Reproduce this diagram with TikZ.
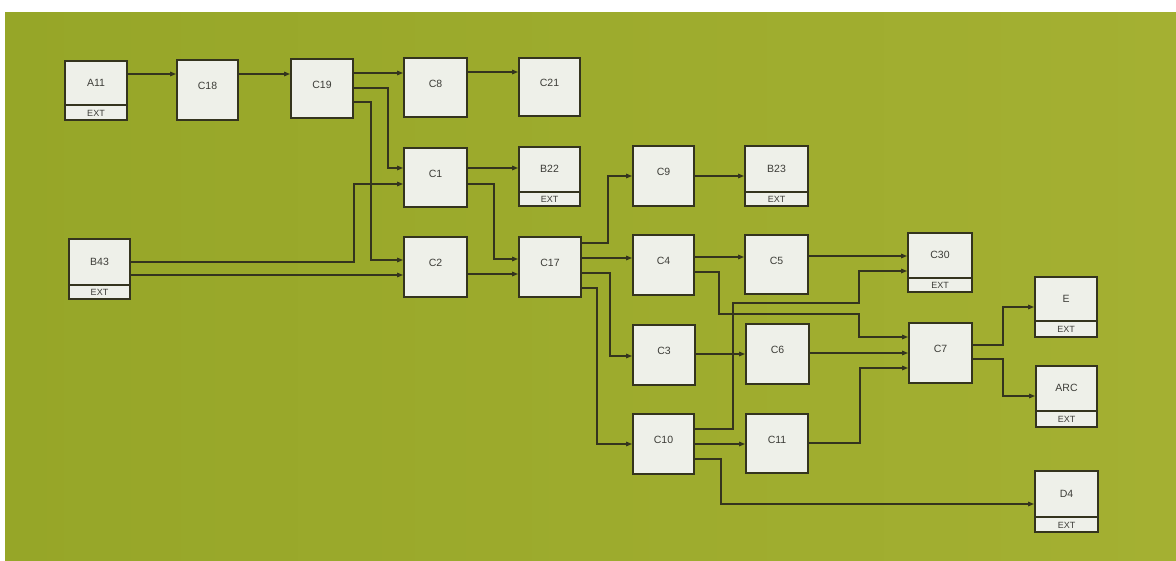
\documentclass[tikz,border=0pt]{standalone}
\usepackage{fontspec}
\setmainfont{Liberation Sans}
\usetikzlibrary{arrows.meta,fit,calc}
\definecolor{bgleft}{RGB}{150,166,40}
\definecolor{bgright}{RGB}{164,176,50}
\definecolor{boxfill}{RGB}{238,240,233}
\definecolor{linecol}{RGB}{52,52,30}
\definecolor{txtcol}{RGB}{60,60,55}
\tikzset{
  box/.style={draw=linecol, line width=1.8pt, fill=boxfill, inner sep=0pt,
    font=\fontsize{10.5}{11}\selectfont, text=txtcol},
  lbl/.style={font=\fontsize{10.5}{11}\selectfont, text=txtcol, inner sep=0pt},
  extlbl/.style={font=\fontsize{9}{9}\selectfont, text=txtcol, inner sep=0pt},
  divline/.style={draw=linecol, line width=1.4pt},
  conn/.style={draw=linecol, line width=1.3pt, -{Triangle[length=6pt,width=4.5pt]}}
}
% plain box: name, x1, y1, x2, y2, label
\newcommand\pbox[6]{\node[box, fit={(#2,#3) (#4,#5)}] (#1) {#6};}
% ext box: name, x1, y1, x2, y2, divider y, label
\newcommand\ebox[7]{%
  \node[box, fit={(#2,#3) (#4,#5)}] (#1) {};
  \draw[divline] (#1.west |- 0,#6) -- (#1.east |- 0,#6);
  \node[lbl] at ($(#1.north)!0.5!(#1.north |- 0,#6)$) {#7};
  \node[extlbl] at ($(#1.south)!0.5!(#1.south |- 0,#6)$) {EXT};}
\begin{document}
\begin{tikzpicture}[x=1pt,y=-1pt]
\useasboundingbox (0,0) rectangle (1176,561);
\fill[white] (0,0) rectangle (1176,561);
\shade[left color=bgleft, right color=bgright] (5,13) rectangle (1176,561);

% boxes
\ebox{A11}{65}{61}{127}{120}{105}{A11}
\pbox{C18}{177}{60}{238}{120}{C18}
\pbox{C19}{291}{59}{353}{118}{C19}
\pbox{C8}{404}{58}{467}{117}{C8}
\pbox{C21}{519}{58}{580}{116}{C21}
\pbox{C1}{404}{148}{467}{207}{C1}
\ebox{B22}{519}{147}{580}{206}{192}{B22}
\pbox{C9}{633}{146}{694}{206}{C9}
\ebox{B23}{745}{146}{808}{206}{192}{B23}
\ebox{B43}{69}{239}{130}{299}{285}{B43}
\pbox{C2}{404}{237}{467}{297}{C2}
\pbox{C17}{519}{237}{581}{297}{C17}
\pbox{C4}{633}{235}{694}{295}{C4}
\pbox{C5}{745}{235}{808}{294}{C5}
\ebox{C30}{908}{233}{972}{292}{278}{C30}
\pbox{C3}{633}{325}{695}{385}{C3}
\pbox{C6}{746}{324}{809}{384}{C6}
\pbox{C7}{909}{323}{972}{383}{C7}
\ebox{E}{1035}{277}{1097}{337}{321}{E}
\ebox{ARC}{1036}{366}{1097}{427}{411}{ARC}
\pbox{C10}{633}{414}{694}{474}{C10}
\pbox{C11}{746}{414}{808}{473}{C11}
\ebox{D4}{1035}{471}{1098}{532}{517}{D4}

% connectors
\draw[conn] (A11.east |- 0,74) -- (C18.west |- 0,74);
\draw[conn] (C18.east |- 0,74) -- (C19.west |- 0,74);
\draw[conn] (C19.east |- 0,73) -- (C8.west |- 0,73);
\draw[conn] (C8.east |- 0,72) -- (C21.west |- 0,72);
\draw[conn] (C19.east |- 0,88) -| (388,168) -- (C1.west |- 0,168);
\draw[conn] (C19.east |- 0,102) -| (371,260) -- (C2.west |- 0,260);
\draw[conn] (B43.east |- 0,262) -| (354,184) -- (C1.west |- 0,184);
\draw[conn] (B43.east |- 0,275) -- (C2.west |- 0,275);
\draw[conn] (C1.east |- 0,168) -- (B22.west |- 0,168);
\draw[conn] (C1.east |- 0,184) -| (494,259) -- (C17.west |- 0,259);
\draw[conn] (C2.east |- 0,274) -- (C17.west |- 0,274);
\draw[conn] (C17.east |- 0,243) -| (608,176) -- (C9.west |- 0,176);
\draw[conn] (C9.east |- 0,176) -- (B23.west |- 0,176);
\draw[conn] (C17.east |- 0,258) -- (C4.west |- 0,258);
\draw[conn] (C17.east |- 0,273) -| (610,356) -- (C3.west |- 0,356);
\draw[conn] (C17.east |- 0,288) -| (597,444) -- (C10.west |- 0,444);
\draw[conn] (C4.east |- 0,257) -- (C5.west |- 0,257);
\draw[conn] (C4.east |- 0,272) -| (719,314) -| (859,337) -- (C7.west |- 0,337);
\draw[conn] (C5.east |- 0,256) -- (C30.west |- 0,256);
\draw[conn] (C10.east |- 0,429) -| (733,303) -| (859,271) -- (C30.west |- 0,271);
\draw[conn] (C3.east |- 0,354) -- (C6.west |- 0,354);
\draw[conn] (C6.east |- 0,353) -- (C7.west |- 0,353);
\draw[conn] (C10.east |- 0,444) -- (C11.west |- 0,444);
\draw[conn] (C11.east |- 0,443) -| (860,368) -- (C7.west |- 0,368);
\draw[conn] (C7.east |- 0,345) -| (1003,307) -- (E.west |- 0,307);
\draw[conn] (C7.east |- 0,359) -| (1003,396) -- (ARC.west |- 0,396);
\draw[conn] (C10.east |- 0,459) -| (721,504) -- (D4.west |- 0,504);
\end{tikzpicture}
\end{document}
